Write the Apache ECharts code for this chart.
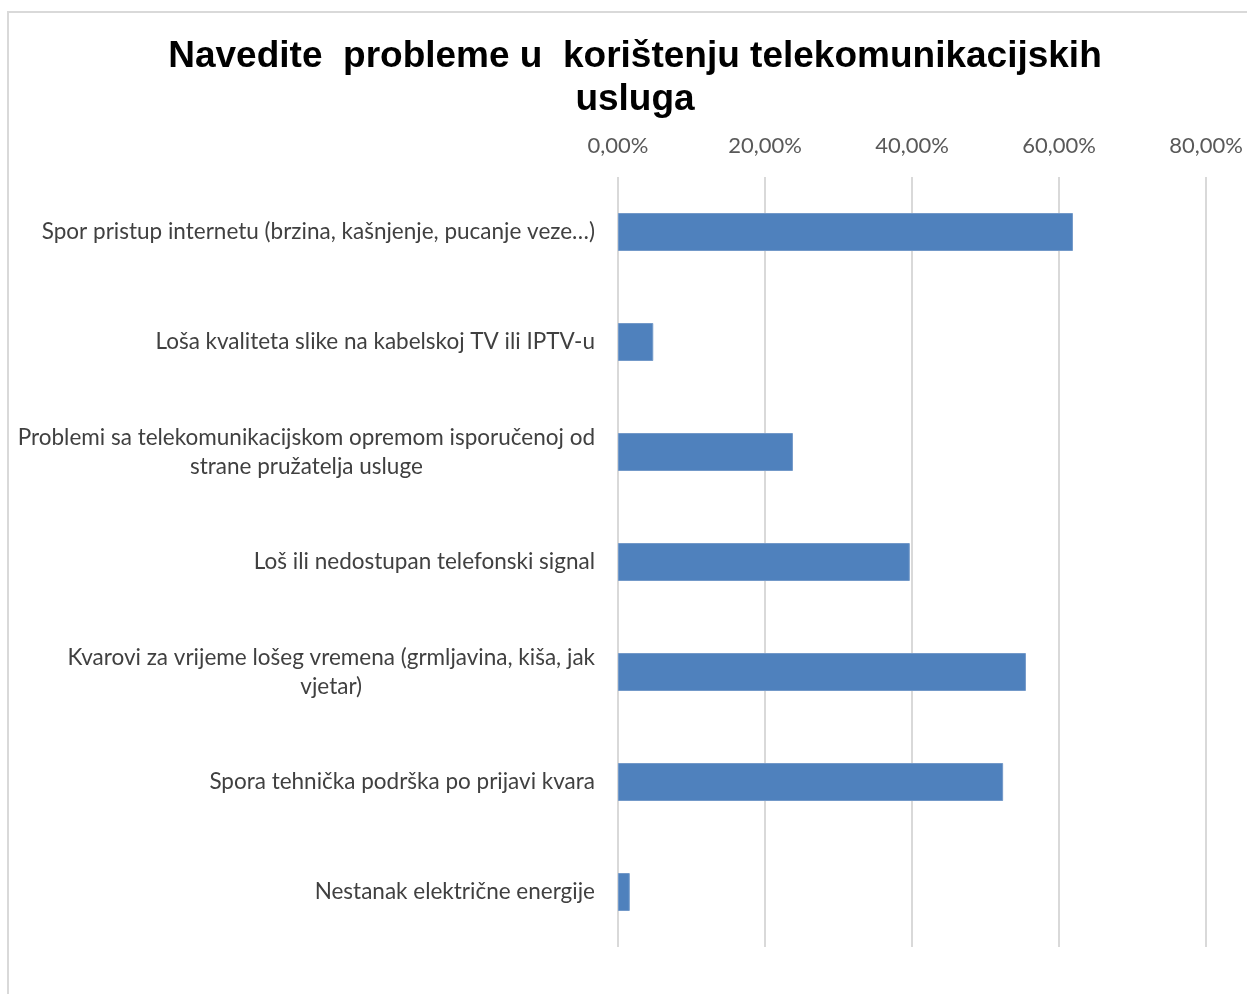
<!DOCTYPE html>
<html>
<head>
<meta charset="utf-8">
<script src="https://cdn.jsdelivr.net/npm/echarts@6/dist/echarts.min.js"></script>
<style>
  html, body { margin: 0; padding: 0; background: #fff; }
  #chart { width: 1247px; height: 994px; }
</style>
</head>
<body>
<div id="chart"></div>
<script>
const categories = [
  'Spor pristup internetu (brzina, kašnjenje, pucanje veze…)',
  'Loša kvaliteta slike na kabelskoj TV ili IPTV-u',
  'Problemi sa telekomunikacijskom opremom isporučenoj od\nstrane pružatelja usluge',
  'Loš ili nedostupan telefonski signal',
  'Kvarovi za vrijeme lošeg vremena (grmljavina, kiša, jak\nvjetar)',
  'Spora tehnička podrška po prijavi kvara',
  'Nestanak električne energije'
];
const values = [61.9, 4.8, 23.8, 39.7, 55.5, 52.4, 1.6];

const chart = echarts.init(document.getElementById('chart'));
const option = {
  backgroundColor: '#fff',
  animation: false,
  title: {
    text: 'Navedite  probleme u  korištenju telekomunikacijskih\nusluga',
    left: 630,
    top: 30,
    textAlign: 'center',
    textStyle: {
      fontFamily: 'Liberation Sans',
      fontWeight: 'bold',
      fontSize: 37,
      lineHeight: 43,
      color: '#000'
    }
  },
  graphic: [{
    type: 'rect',
    shape: { x: 8, y: 12, width: 1300, height: 1100 },
    style: { fill: 'none', stroke: '#d9d9d9', lineWidth: 2 },
    silent: true
  }],
  grid: { left: 618, right: 41, top: 177, bottom: 47 },
  xAxis: {
    type: 'value',
    position: 'top',
    min: 0,
    max: 80,
    interval: 20,
    axisLine: { show: false },
    axisTick: { show: false },
    splitLine: { lineStyle: { color: '#d9d9d9', width: 2 } },
    axisLabel: {
      margin: 20,
      fontFamily: 'Lato',
      fontSize: 22,
      color: '#595959',
      formatter: v => v.toFixed(2).replace('.', ',') + '%'
    }
  },
  yAxis: {
    type: 'category',
    data: categories,
    inverse: true,
    axisLine: { show: false },
    axisTick: { show: false },
    axisLabel: {
      margin: 23,
      fontFamily: 'Lato',
      fontSize: 22.5,
      color: '#404040',
      formatter: function (v) {
        const lines = v.split('\n');
        if (lines.length === 1) return v;
        return lines.map(l => '{c|' + l + '}').join('\n');
      },
      rich: {
        c: {
          align: 'center',
          fontFamily: 'Lato',
          fontSize: 22.5,
          lineHeight: 29,
          color: '#404040'
        }
      }
    }
  },
  series: [{
    type: 'bar',
    data: values,
    barWidth: 38,
    itemStyle: { color: '#4f81bd', borderColor: '#7399c9', borderWidth: 1 }
  }]
};
chart.setOption(option);
window.addEventListener('resize', function () {
  chart.resize();
});
</script>
</body>
</html>
